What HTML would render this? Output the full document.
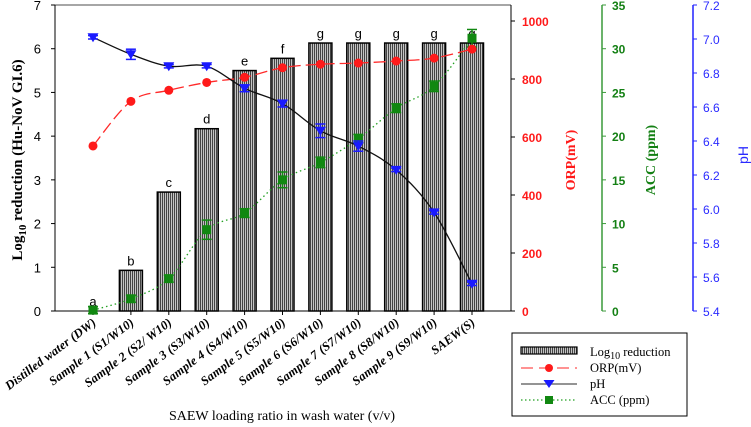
<!DOCTYPE html>
<html><head><meta charset="utf-8">
<style>
html,body{margin:0;padding:0;background:#fff;}
svg{display:block;font-family:"Liberation Serif",serif;}
.sans{font-family:"Liberation Sans",sans-serif;}
</style></head>
<body>
<svg id="chart" width="751" height="427" viewBox="0 0 751 427" xmlns="http://www.w3.org/2000/svg">
<defs>
<pattern id="hatch" width="2" height="2" patternUnits="userSpaceOnUse">
<rect width="2" height="2" fill="#c4c4c4"/>
<rect width="1" height="2" fill="#444"/>
</pattern>
</defs>
<g id="plot"></g>
</svg>
<script>
const categories=["Distilled water (DW)","Sample 1 (S1/W10)","Sample 2 (S2/ W10)","Sample 3 (S3/W10)","Sample 4 (S4/W10)","Sample 5 (S5/W10)","Sample 6 (S6/W10)","Sample 7 (S7/W10)","Sample 8 (S8/W10)","Sample 9 (S9/W10)","SAEW(S)"];
const logReduction=[0,0.93,2.72,4.17,5.5,5.78,6.13,6.13,6.13,6.13,6.13];
const letters=["a","b","c","d","e","f","g","g","g","g","g"];
const orp=[569,723,761,788,806,839,851,855,862,872,903];
const ph=[7.01,6.91,6.84,6.84,6.71,6.62,6.46,6.37,6.23,5.98,5.56];
const phErr=[0.01,0.03,0.01,0.01,0.02,0.02,0.04,0.03,0.01,0.01,0.01];
const acc=[0.1,1.4,3.7,9.3,11.2,15,17,19.7,23.2,25.7,31.2];
const accErr=[0.4,0.4,0.4,1.1,0.5,0.9,0.6,0.5,0.5,0.6,1.0];
const leftTicks=[0,1,2,3,4,5,6,7];
const orpTicks=[0,200,400,600,800,1000];
const accTicks=[0,5,10,15,20,25,30,35];
const phTicks=[5.4,5.6,5.8,6.0,6.2,6.4,6.6,6.8,7.0,7.2];

const NS="http://www.w3.org/2000/svg";
const g=document.getElementById('plot');
function el(tag,attrs,parent){const e=document.createElementNS(NS,tag);for(const k in attrs)e.setAttribute(k,attrs[k]);(parent||g).appendChild(e);return e;}
const L=55,R=511,B=311;
const xS=i=>93+i*37.9;
const yL=v=>B-v*(306/7);
const yO=v=>B-v*0.29;
const yA=v=>B-v*(306/35);
const yP=v=>B-(v-5.4)*(306/1.8);

let e=el('line',{x1:L,y1:5,x2:R,y2:5,stroke:'#888','stroke-width':1.5});


e=el('line',{x1:L,y1:5,x2:L,y2:B,stroke:'#000','stroke-width':1});


e=el('line',{x1:L,y1:B,x2:R,y2:B,stroke:'#000','stroke-width':1});


e=el('line',{x1:R,y1:5,x2:R,y2:B,stroke:'#000','stroke-width':1});



leftTicks.forEach(v=>{
 el('line',{x1:L-4,y1:yL(v),x2:L,y2:yL(v),stroke:'#000'});
 const t=el('text',{x:L-14,y:yL(v)+5,'text-anchor':'end','font-size':13,class:'sans'});t.textContent=v;
 
 
});
orpTicks.forEach(v=>{
 el('line',{x1:R,y1:yO(v),x2:R+4,y2:yO(v),stroke:'#000'});
 const t=el('text',{x:R+11,y:yO(v)+5,'font-size':12,'font-weight':'bold',fill:'#ff1a1a',class:'sans'});t.textContent=v;
 
 
});
e=el('line',{x1:602,y1:5,x2:602,y2:B,stroke:'#3a9a3a','stroke-width':1.5});


accTicks.forEach(v=>{
 el('line',{x1:602,y1:yA(v),x2:606,y2:yA(v),stroke:'#3a9a3a'});
 const t=el('text',{x:612,y:yA(v)+5,'font-size':12,'font-weight':'bold',fill:'#148014',class:'sans'});t.textContent=v;
 
 
});
e=el('line',{x1:693,y1:5,x2:693,y2:B,stroke:'#2222ff','stroke-width':1.5});


phTicks.forEach(v=>{
 el('line',{x1:693,y1:yP(v),x2:697,y2:yP(v),stroke:'#2222ff'});
 const t=el('text',{x:703,y:yP(v)+5,'font-size':12,fill:'#2a2aff',class:'sans'});t.textContent=v.toFixed(1);
 
 
});

categories.forEach((c,i)=>{
 const x=xS(i);
 el('line',{x1:x,y1:B,x2:x,y2:B+4,stroke:'#000'});
 if(logReduction[i]>0){
  const b=el('rect',{x:x-11.5,y:yL(logReduction[i]),width:23,height:B-yL(logReduction[i]),fill:'url(#hatch)',stroke:'#000','stroke-width':1.5});
  
  
 }
 const t=el('text',{x:x,y:yL(logReduction[i])-5,'text-anchor':'middle','font-size':13,class:'sans'});t.textContent=letters[i];
 
 
 const lb=el('text',{x:x+4,y:B+13,'text-anchor':'end','font-size':12.5,'font-weight':'bold','font-style':'italic','letter-spacing':'0.2',transform:`rotate(-37 ${x+4} ${B+13})`});
 lb.textContent=c;
 
 
});

function smooth(pts){let d=`M${pts[0][0]},${pts[0][1]}`;for(let i=0;i<pts.length-1;i++){const p0=pts[i-1]||pts[i],p1=pts[i],p2=pts[i+1],p3=pts[i+2]||p2;d+=` C${p1[0]+(p2[0]-p0[0])/6},${p1[1]+(p2[1]-p0[1])/6} ${p2[0]-(p3[0]-p1[0])/6},${p2[1]-(p3[1]-p1[1])/6} ${p2[0]},${p2[1]}`;}return d;}

e=el('path',{d:smooth(acc.map((v,i)=>[xS(i),yA(v)])),fill:'none',stroke:'#22a022','stroke-width':1.3,'stroke-dasharray':'1.5,3'});


acc.forEach((v,i)=>{const x=xS(i),y=yA(v);
 el('line',{x1:x,y1:yA(v+accErr[i]),x2:x,y2:yA(v-accErr[i]),stroke:'#118811','stroke-width':1.5});
 el('line',{x1:x-5,y1:yA(v+accErr[i]),x2:x+5,y2:yA(v+accErr[i]),stroke:'#118811','stroke-width':1.5});
 el('line',{x1:x-5,y1:yA(v-accErr[i]),x2:x+5,y2:yA(v-accErr[i]),stroke:'#118811','stroke-width':1.5});
 const m=el('rect',{x:x-4.5,y:y-4.5,width:9,height:9,fill:'#118811'});
 
 
});
e=el('path',{d:smooth(orp.map((v,i)=>[xS(i),yO(v)])),fill:'none',stroke:'#ff2a2a','stroke-width':1.3,'stroke-dasharray':'12,5'});


orp.forEach((v,i)=>{const m=el('circle',{cx:xS(i),cy:yO(v),r:4.5,fill:'#ff1a1a'});
 
 
});
e=el('path',{d:smooth(ph.map((v,i)=>[xS(i),yP(v)])),fill:'none',stroke:'#111','stroke-width':1.3});


ph.forEach((v,i)=>{const x=xS(i),y=yP(v);
 el('line',{x1:x,y1:yP(v+phErr[i]),x2:x,y2:yP(v-phErr[i]),stroke:'#1a1aff','stroke-width':1.5});
 el('line',{x1:x-5,y1:yP(v+phErr[i]),x2:x+5,y2:yP(v+phErr[i]),stroke:'#1a1aff','stroke-width':1.5});
 el('line',{x1:x-5,y1:yP(v-phErr[i]),x2:x+5,y2:yP(v-phErr[i]),stroke:'#1a1aff','stroke-width':1.5});
 const m=el('path',{d:`M${x-5.5},${y-4} L${x+5.5},${y-4} L${x},${y+5} Z`,fill:'#1a1aff'});
 
 
});

let t=el('text',{x:0,y:0,'text-anchor':'middle','font-size':15,'font-weight':'bold',transform:'translate(22,160) rotate(-90)'});
t.innerHTML='Log<tspan font-size="11" dy="4">10</tspan><tspan dy="-4"> reduction (Hu-NoV GI.6)</tspan>';


t=el('text',{x:0,y:0,'text-anchor':'middle','font-size':14,'font-weight':'bold',fill:'#ff1a1a',transform:'translate(575,160) rotate(-90)'});t.textContent='ORP(mV)';


t=el('text',{x:0,y:0,'text-anchor':'middle','font-size':14,'font-weight':'bold',fill:'#148014',transform:'translate(655,160) rotate(-90)'});t.textContent='ACC (ppm)';


t=el('text',{x:0,y:0,'text-anchor':'middle','font-size':14,fill:'#2a2aff',class:'sans',transform:'translate(748,155) rotate(-90)'});t.textContent='pH';


t=el('text',{x:282,y:420,'text-anchor':'middle','font-size':14});t.textContent='SAEW loading ratio in wash water  (v/v)';



const lg=el('g',{});


el('rect',{x:512,y:333,width:175,height:83,fill:'#fff',stroke:'#000','stroke-width':1},lg);
el('rect',{x:521,y:347,width:56,height:7,fill:'url(#hatch)',stroke:'#000','stroke-width':1.2},lg);
el('line',{x1:521,y1:368,x2:577,y2:368,stroke:'#ff5050','stroke-width':1.2,'stroke-dasharray':'12,6'},lg);
el('circle',{cx:549,cy:368,r:4,fill:'#ff1a1a'},lg);
el('line',{x1:521,y1:384,x2:577,y2:384,stroke:'#555','stroke-width':1.3},lg);
el('path',{d:'M543.5,380 L554.5,380 L549,388 Z',fill:'#1a1aff'},lg);
el('line',{x1:521,y1:400,x2:577,y2:400,stroke:'#22a022','stroke-width':1.2,'stroke-dasharray':'1.5,2.5'},lg);
el('rect',{x:545,y:396,width:8,height:8,fill:'#118811'},lg);
const lt=[['Log<tspan font-size="10" dy="3">10</tspan><tspan dy="-3"> reduction</tspan>',356],['ORP(mV)',372],['pH',388],['ACC (ppm)',404]];
lt.forEach(([s,y])=>{const x=el('text',{x:590,y:y,'font-size':12.5},lg);x.innerHTML=s;
 
 
});
</script>
</body></html>
